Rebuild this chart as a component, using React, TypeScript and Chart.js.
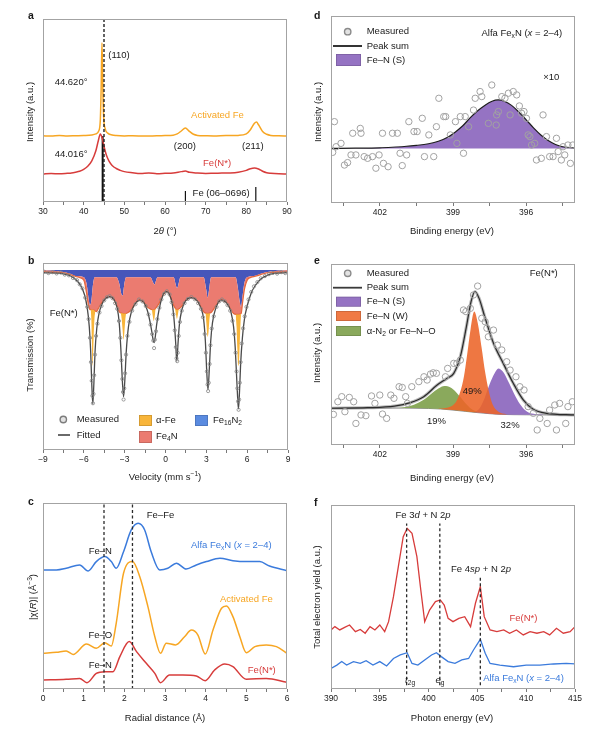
import { useEffect, useRef } from 'react';
import { Chart, registerables } from 'chart.js';

Chart.register(...registerables);
const FONT = "'Liberation Sans', Arial, Helvetica, sans-serif";
Chart.defaults.font.family = FONT;
Chart.defaults.color = '#222';

// ---------------- Panel a: XRD ----------------
const XRD_ACTIVATED_FE = [[30,36.2],[32,36.0],[34,36.3],[36,36.1],[38,36.2],[40,36.3],[42,36.6],[43,37.2],[43.7,38.8],[44.1,45],[44.3,62],[44.5,87],[44.7,64],[44.9,47],[45.3,40],[46,37.5],[47,36.6],[48,36.3],[50,36.1],[52,36.2],[55,36.0],[58,36.2],[60,36.3],[62,36.5],[63,37.2],[64,38.8],[65,40.4],[66,38.6],[67,37.0],[68,36.4],[70,36.2],[72,36.1],[75,36.3],[78,36.4],[80,37.2],[81,39.5],[82,43.0],[82.5,43.7],[83,42.2],[84,38.5],[85,37],[86,36.4],[88,36.2],[90,36.1]];
const XRD_FE_N = [[30,15.3],[32,15.6],[34,15.4],[36,15.7],[37,15.9],[38,16.3],[39,16.8],[40,17.8],[41,19.5],[42,22.5],[43,28],[43.6,33.5],[44.1,37.2],[44.6,34.5],[45.1,29.5],[45.6,25.5],[46.2,22.5],[47,20],[48,18.3],[49,17.3],[50,16.6],[52,16.0],[54,15.6],[56,15.8],[58,15.5],[60,15.7],[62,15.9],[64,16.6],[65,16.9],[66,16.2],[68,15.8],[70,15.6],[72,15.7],[74,15.8],[76,15.9],[78,16.3],[80,17.3],[81,18.2],[82,18.6],[83,18],[84,16.8],[85,16],[86,15.7],[88,15.4],[90,15.3]];
const XRD_DASH_X = 45.0;
const XRD_REF_POS = [44.67, 65.02, 82.33];
const XRD_REF_HEIGHT = [36, 6, 8.2];
const XRD_TICKS = [30,35,40,45,50,55,60,65,70,75,80,85,90];
const XRD_LABELS = [30,40,50,60,70,80,90];

// ---------------- Panel d: XPS Alfa FexN ----------------
const XPS_ALFA_MEASURED = [[403.86,43.5],[403.93,27.1],[403.79,30.1],[403.59,31.9],[403.45,20.3],[403.32,21.6],[403.11,37.3],[403.18,25.7],[402.98,25.7],[402.80,39.9],[402.77,37.3],[402.64,24.8],[402.50,23.9],[402.30,24.8],[402.16,18.6],[402.03,25.7],[401.89,37.3],[401.85,21.2],[401.66,19.4],[401.48,37.3],[401.28,37.3],[401.17,26.6],[401.08,20.0],[400.90,25.7],[400.81,43.5],[400.60,38.2],[400.47,38.2],[400.26,45.3],[400.17,24.8],[399.99,36.4],[399.79,24.8],[399.68,40.8],[399.58,56.0],[399.38,46.2],[399.30,46.2],[399.11,36.4],[398.90,43.5],[398.84,31.9],[398.70,46.2],[398.57,26.6],[398.50,46.2],[398.36,40.8],[398.16,49.7],[398.09,56.0],[397.89,59.6],[397.82,56.9],[397.55,42.6],[397.41,63.1],[397.23,41.7],[397.21,47.1],[397.14,48.9],[397.00,56.9],[396.87,56.0],[396.73,58.7],[396.66,47.1],[396.53,59.6],[396.39,57.8],[396.28,51.9],[396.19,48.0],[396.09,48.9],[395.99,45.3],[395.92,36.4],[395.85,35.5],[395.78,31.0],[395.65,31.9],[395.58,23.0],[395.38,23.9],[395.31,47.1],[395.17,35.5],[395.04,24.8],[394.90,24.8],[394.76,34.6],[394.69,27.5],[394.56,23.0],[394.49,30.1],[394.42,25.7],[394.29,31.0],[394.19,21.2],[394.09,31.0]];
const XPS_ALFA_FIT = [[404,29.2],[403,29.3],[402,29.5],[401.5,29.8],[401,30.2],[400.5,30.8],[400,31.7],[399.6,33.0],[399.2,35.3],[398.9,38.0],[398.6,41.3],[398.3,45.5],[398.0,49.2],[397.7,52.2],[397.4,54.4],[397.15,55.1],[396.9,54.4],[396.6,52.2],[396.3,48.6],[396.0,44.5],[395.7,40.2],[395.4,36.4],[395.1,33.4],[394.8,31.3],[394.5,30.1],[394.0,29.4]];
const XPS_ALFA_BASE = 29.2;
const XPS_TICKS = [394.5,396,397.5,399,400.5,402,403.5];
const XPS_LABELS = [396,399,402];

// ---------------- Panel b: Mossbauer ----------------
const MOSS_MEASURED = [[-8.9,95.3],[-8.6,94.6],[-8.3,95.1],[-8.0,94.4],[-7.7,94.9],[-7.4,93.8],[-7.1,93.4],[-6.8,92.0],[-6.5,90.8],[-6.3,88.6],[-6.1,86.4],[-5.9,81.5],[-5.75,76.5],[-5.65,70],[-5.55,60],[-5.48,47],[-5.42,37],[-5.37,29],[-5.33,25],[-5.29,30],[-5.24,40],[-5.18,51],[-5.1,61],[-5.0,67.5],[-4.85,73.5],[-4.7,77],[-4.5,80],[-4.3,81.7],[-4.1,82.3],[-3.9,81.2],[-3.7,78.5],[-3.55,75.5],[-3.42,69],[-3.32,60],[-3.24,48],[-3.17,38],[-3.12,31],[-3.08,27],[-3.03,33],[-2.97,41],[-2.9,51],[-2.8,61],[-2.65,68.5],[-2.45,74.5],[-2.2,78],[-1.95,80.5],[-1.7,79.5],[-1.45,77],[-1.25,72.5],[-1.1,67],[-0.98,62],[-0.9,58.5],[-0.84,54.5],[-0.78,59],[-0.7,63.5],[-0.6,70],[-0.45,76],[-0.3,80.5],[-0.1,83.5],[0.1,84.9],[0.3,83.2],[0.45,79],[0.58,72.5],[0.68,64],[0.76,55],[0.81,49],[0.86,47.5],[0.9,52],[0.97,61],[1.06,68.5],[1.2,74.5],[1.4,78.5],[1.65,80.8],[1.9,81.8],[2.15,80.6],[2.4,78.5],[2.6,75.5],[2.75,71],[2.88,62],[2.97,52],[3.04,42],[3.09,35],[3.13,31.5],[3.18,36],[3.24,46],[3.3,56],[3.4,65],[3.55,71.5],[3.75,76.5],[3.95,79.5],[4.15,80.5],[4.35,79.5],[4.55,77.5],[4.75,74.5],[4.92,69],[5.05,62],[5.15,52],[5.22,42],[5.28,33],[5.33,26],[5.37,21.5],[5.41,27],[5.46,36],[5.52,47],[5.6,57],[5.7,65],[5.82,71.5],[5.95,76.5],[6.1,80.5],[6.3,84.5],[6.5,87.5],[6.75,89.8],[7.0,91.8],[7.3,93],[7.6,94],[7.9,94.7],[8.2,94.3],[8.5,95.1],[8.8,94.6]];
const MOSS_FITTED = [[-9,94.8],[-8,94.6],[-7.5,94.2],[-7,93.2],[-6.5,90.5],[-6.2,87.5],[-5.95,83],[-5.75,76],[-5.6,66],[-5.5,53],[-5.42,36],[-5.34,24.6],[-5.26,36],[-5.18,52],[-5.05,65],[-4.9,72.5],[-4.7,77.5],[-4.4,81],[-4.1,82],[-3.8,80.5],[-3.55,76],[-3.4,68],[-3.28,54],[-3.17,37],[-3.08,28.5],[-2.99,37],[-2.88,53],[-2.72,66],[-2.5,74],[-2.2,78.5],[-1.9,80.2],[-1.6,79],[-1.35,75],[-1.15,69],[-1.0,63],[-0.9,58.5],[-0.84,57.5],[-0.76,60],[-0.65,67],[-0.45,76],[-0.2,82.5],[0.05,84.7],[0.3,83],[0.5,78],[0.65,68],[0.75,57],[0.83,47.4],[0.92,57],[1.02,67],[1.2,75],[1.5,80],[1.9,81.5],[2.3,80],[2.6,76],[2.8,70],[2.93,58],[3.03,42],[3.12,32.2],[3.21,42],[3.32,58],[3.45,68],[3.7,76],[4.1,80.2],[4.5,78.5],[4.8,74],[5.0,66],[5.12,55],[5.22,40],[5.3,28],[5.36,22],[5.43,30],[5.52,46],[5.65,60],[5.8,70],[6.0,77],[6.3,84],[6.6,88],[7.0,91.5],[7.5,93.5],[8,94.4],[9,94.8]];
const MOSS_TOP_LEVEL = 96.3;
const MOSS_FE16N2 = [[-9,96.2],[-7.5,95.2],[-7,94.2],[-6.6,93.0],[-6.0,92.4],[-5.8,89],[-5.65,81],[-5.55,77.5],[-5.45,79.5],[-5.35,87],[-5.2,92.4],[-3.6,92.4],[-3.4,89],[-3.25,83.5],[-3.15,82.5],[-3.05,87.5],[-2.9,92.4],[-1.1,92.4],[-0.9,89.5],[-0.8,88.5],[-0.7,90.5],[-0.6,92.4],[0.6,92.4],[0.75,88.5],[0.85,86.5],[0.95,88.5],[1.1,92.4],[2.8,92.4],[3.0,85.5],[3.1,81.5],[3.2,85.5],[3.35,92.4],[5.15,92.4],[5.3,87.5],[5.45,79.5],[5.55,76.5],[5.65,81.5],[5.8,89.5],[6.1,92.6],[6.6,93.2],[7,94.2],[7.5,95.2],[9,96.2]];
const MOSS_FE4N = [[-9,95.2],[-8,95.0],[-7.5,94.8],[-7,93.8],[-6.6,92.8],[-6.3,92.2],[-6.0,90.8],[-5.8,84],[-5.65,77],[-5.5,75],[-5.35,75],[-5.2,74.5],[-5.08,74],[-4.95,75.5],[-4.7,78.5],[-4.4,81],[-4.1,82],[-3.8,80.5],[-3.55,76.5],[-3.4,74],[-3.25,73.2],[-3.1,73],[-2.92,73],[-2.75,73.5],[-2.5,75],[-2.2,78.5],[-1.9,80.2],[-1.6,79],[-1.35,76.5],[-1.15,75.5],[-1.0,75],[-0.84,75],[-0.7,76],[-0.5,78],[-0.2,82.5],[0.05,84.7],[0.3,83],[0.5,79],[0.7,76],[0.85,75],[1.0,75.5],[1.2,77],[1.5,80],[1.9,81.5],[2.3,80],[2.6,76.5],[2.85,73.5],[3.1,73],[3.35,73.5],[3.6,76],[4.1,80.2],[4.5,78.5],[4.8,75],[5.0,73],[5.2,72.5],[5.4,72.5],[5.56,73],[5.65,78],[5.8,86],[6.0,90.8],[6.3,92.4],[6.6,92.9],[7,93.8],[7.5,94.8],[8,95.0],[9,95.2]];
const MOSS_ALPHA_FE_D1 = [[-5.5,75],[-5.45,70],[-5.41,58],[-5.37,45],[-5.33,48],[-5.28,60],[-5.22,70],[-5.15,74.3]];
const MOSS_ALPHA_FE_D2 = [[-3.28,73.3],[-3.22,70],[-3.15,64],[-3.08,59],[-3.02,63],[-2.96,69],[-2.9,73]];
const MOSS_ALPHA_FE_D3 = [[-1.0,75],[-0.92,71],[-0.86,69],[-0.8,71],[-0.72,75.8]];
const MOSS_ALPHA_FE_D4 = [[0.7,76],[0.78,72],[0.84,70],[0.9,72],[0.98,75.4]];
const MOSS_ALPHA_FE_D5 = [[2.93,73.3],[2.99,69],[3.05,63],[3.1,60.5],[3.16,63],[3.22,69],[3.28,73.3]];
const MOSS_ALPHA_FE_D6 = [[5.15,72.6],[5.22,66],[5.28,54],[5.34,45],[5.4,47],[5.46,58],[5.52,69],[5.56,73]];
const MOSS_TICKS = [-9,-7.5,-6,-4.5,-3,-1.5,0,1.5,3,4.5,6,7.5,9];
const MOSS_LABELS = [-9,-6,-3,0,3,6,9];

// ---------------- Panel e: XPS Fe(N*) ----------------
const XPS_FEN_MEASURED = [[403.90,16.9],[403.72,23.9],[403.56,26.7],[403.43,18.4],[403.25,26.3],[403.07,23.9],[402.98,11.9],[402.77,16.6],[402.57,16.2],[402.34,27.1],[402.20,23.0],[402.00,27.6],[401.89,17.1],[401.72,14.7],[401.55,27.6],[401.42,25.8],[401.21,32.2],[401.08,31.8],[400.94,26.7],[400.87,23.0],[400.69,32.2],[400.40,35.0],[400.19,37.7],[400.06,35.9],[399.92,39.2],[399.81,39.9],[399.68,39.6],[399.31,37.7],[399.22,42.3],[398.97,45.1],[398.84,45.1],[398.70,46.9],[398.57,74.6],[398.47,73.7],[398.29,75.5],[398.16,82.9],[397.99,87.8],[397.82,70.0],[397.68,68.1],[397.61,64.5],[397.55,59.8],[397.34,63.5],[397.18,55.2],[397.00,52.5],[396.80,46.0],[396.66,41.4],[396.42,37.7],[396.26,32.2],[396.09,30.4],[395.92,21.2],[395.71,17.5],[395.55,8.3],[395.44,14.7],[395.14,11.9],[395.04,19.3],[394.83,22.1],[394.76,8.3],[394.63,23.0],[394.38,11.9],[394.29,21.2],[394.11,23.9]];
const XPS_FEN_SUM = [[404,20.3],[402.5,20.6],[401.4,21.5],[400.75,23.4],[400.2,26.7],[399.65,33.1],[399.25,36.8],[398.97,39.6],[398.7,48.8],[398.45,65.4],[398.26,79.2],[398.1,84.8],[397.93,81.0],[397.7,70.9],[397.34,56.2],[396.94,45.1],[396.53,34.1],[396.12,24.9],[395.71,19.7],[395.17,17.5],[394,16.6]];
const XPS_FEN_BASE = [[404,20.3],[401,20.4],[400,20.2],[399.5,19.9],[399,19.3],[398.5,18.6],[398,17.9],[397.5,17.3],[397,16.9],[396,16.7],[394,16.5]];
const XPS_FEN_N2 = [[401.3,20.4],[401,20.9],[400.6,22.3],[400.2,25.0],[399.9,28.2],[399.6,31.2],[399.35,32.6],[399.1,31.8],[398.9,29.6],[398.7,26.5],[398.5,23.2],[398.3,20.5],[398.1,18.8],[397.9,17.8]];
const XPS_FEN_W = [[399.6,19.9],[399.3,20.4],[399.05,21.5],[398.85,24.5],[398.7,29.5],[398.55,38],[398.42,50],[398.28,64],[398.13,73.7],[397.98,67],[397.83,54],[397.68,40],[397.53,29.5],[397.38,22.5],[397.15,18.5],[396.8,17.0]];
const XPS_FEN_S = [[398.1,18.0],[397.9,20.5],[397.7,26],[397.5,33.5],[397.3,39.5],[397.14,42.3],[396.95,40.5],[396.75,35.5],[396.5,28.5],[396.25,22.5],[396,18.8],[395.7,17.2],[395.3,16.7]];
const XPS_FEN_SHARES = ['19%', '49%', '32%'];

// ---------------- Panel c: EXAFS ----------------
const EXAFS_ALFA = [[0,64.0],[0.33,64.0],[0.57,64.9],[0.9,66.7],[1.11,63.5],[1.31,68.5],[1.52,71.2],[1.68,68.5],[1.8,64.9],[1.98,73.8],[2.17,85.5],[2.34,89.1],[2.5,85.5],[2.66,73.8],[2.87,64.0],[3.07,64.9],[3.28,67.6],[3.52,64.5],[3.77,66.7],[4.02,68.5],[4.35,70.3],[4.67,69.0],[5.0,68.5],[5.33,68.5],[5.57,66.1],[6.0,63.6]];
const EXAFS_ACTIVATED = [[0,19.2],[0.33,19.7],[0.57,20.4],[0.74,18.6],[1.07,24.2],[1.31,21.9],[1.52,24.9],[1.68,23.1],[1.8,35.3],[1.98,62.2],[2.2,68.5],[2.38,60.4],[2.58,44.3],[2.75,28.1],[2.89,19.2],[3.03,24.6],[3.26,23.7],[3.48,28.1],[3.65,31.7],[3.81,29.0],[3.99,18.8],[4.18,31.7],[4.39,43.4],[4.51,44.6],[4.67,38.9],[4.84,28.1],[5.0,19.5],[5.21,22.8],[5.49,23.7],[5.74,22.8],[6.0,19.2]];
const EXAFS_FEN = [[0,4.8],[0.57,5.2],[0.9,5.7],[1.08,3.4],[1.31,8.4],[1.52,9.3],[1.72,9.3],[1.89,17.4],[2.12,25.5],[2.3,20.1],[2.54,13.8],[2.75,8.4],[2.89,3.4],[3.11,7.5],[3.44,7.5],[3.77,7.0],[3.99,4.5],[4.22,10.2],[4.47,13.4],[4.67,12.0],[5.0,5.2],[5.49,5.7],[6.0,3.6]];
const EXAFS_DASH_X = [1.5, 2.2];
const EXAFS_TICKS = [0,0.5,1,1.5,2,2.5,3,3.5,4,4.5,5,5.5,6];
const EXAFS_LABELS = [0,1,2,3,4,5,6];

// ---------------- Panel f: NEXAFS ----------------
const NEXAFS_FEN = [[390.0,32.1],[390.4,33.9],[390.9,32.1],[391.4,33.5],[391.9,34.8],[392.5,31.2],[393.0,32.4],[393.5,30.3],[394.0,33.9],[394.5,32.1],[395.0,34.8],[395.5,31.2],[395.9,36.6],[396.4,50.2],[396.9,66.5],[397.4,82.8],[397.8,87.3],[398.3,84.6],[398.8,71.9],[399.2,53.8],[399.6,36.6],[400.1,42.9],[400.7,47.5],[401.2,48.4],[401.6,45.6],[402.0,38.4],[402.5,36.6],[403.1,38.4],[403.7,39.3],[404.3,33.9],[404.8,46.6],[405.3,55.6],[405.7,39.3],[406.3,32.1],[407.0,31.2],[407.7,32.1],[408.3,30.3],[409.0,32.1],[409.7,29.4],[410.4,31.2],[411.1,30.3],[411.8,31.2],[412.4,29.4],[413.1,33.0],[413.8,30.3],[414.5,31.2],[415.0,33.9]];
const NEXAFS_ALFA = [[390.0,11.2],[390.6,13.0],[391.1,14.9],[391.6,13.0],[392.3,14.9],[393.0,13.9],[393.6,15.4],[394.3,13.0],[395.0,14.9],[395.7,12.5],[396.4,16.6],[397.1,18.5],[397.8,19.7],[398.3,13.9],[398.9,13.0],[399.6,15.8],[400.3,18.5],[400.8,19.7],[401.3,17.6],[402.0,14.9],[402.7,13.9],[403.4,15.8],[404.1,16.6],[404.6,21.2],[405.3,27.0],[405.8,19.4],[406.3,13.9],[407.3,13.0],[408.7,12.1],[410.0,13.0],[411.4,13.0],[412.8,13.6],[414.1,13.9],[415.0,13.6]];
const NEXAFS_DASH_X = [397.75, 401.15, 405.3];
const NEXAFS_DASH_TOP = [90, 90, 60.7];
const NEXAFS_TICKS = [390,392.5,395,397.5,400,402.5,405,407.5,410,412.5,415];
const NEXAFS_LABELS = [390,395,400,405,410,415];

// ---------------- colours ----------------
const C_ORANGE = '#F7A623';
const C_RED = '#D73C3B';
const C_BLUE = '#3B7BDC';
const C_PURPLE = '#9573C3';
const C_WORANGE = 'rgba(236,100,40,0.88)';
const C_GREEN = '#8AA95C';
const C_MOSS_BLUE = '#4656BA';
const C_MOSS_RED = '#EB7B70';
const C_MOSS_YEL = '#F8B53A';
const TXT = 9.5;

// ---------------- helpers ----------------
const xy = (a: number[][]) => a.map(([x, y]) => ({ x, y }));
const line = (data: number[][], color: string, width: number, extra: any = {}) => ({
  data: xy(data), borderColor: color, borderWidth: width, pointRadius: 0, fill: false,
  cubicInterpolationMode: 'monotone', ...extra,
});
const vline = (x: number, y0: number, y1: number, color: string, width: number, dash: number[] = []) =>
  ({ data: [{ x, y: y0 }, { x, y: y1 }], borderColor: color, borderWidth: width, borderDash: dash, pointRadius: 0, fill: false });
const scatter = (data: number[][], color: string, r: number, bw: number) => ({
  data: xy(data), showLine: false, pointRadius: r, pointBorderColor: color,
  pointBackgroundColor: 'rgba(255,255,255,0)', pointBorderWidth: bw, borderColor: color, backgroundColor: 'rgba(0,0,0,0)', fill: false,
});

function parseRich(s: string) {
  const segs: any[] = [];
  let buf = ''; let it = false; let i = 0;
  const flush = () => { if (buf) { segs.push({ t: buf, it }); buf = ''; } };
  while (i < s.length) {
    const c = s[i];
    if ((c === '_' || c === '^') && s[i + 1] === '{') {
      flush();
      const end = s.indexOf('}', i);
      segs.push({ t: s.slice(i + 2, end), sub: c === '_', sup: c === '^', it });
      i = end + 1; continue;
    }
    if (c === '~') { flush(); it = !it; i++; continue; }
    buf += c; i++;
  }
  flush();
  return segs;
}

function drawRich(ctx: CanvasRenderingContext2D, s: string, x: number, y: number, size: number, color: string, align: string, bold: boolean, rot: boolean) {
  const segs = parseRich(s);
  const fontFor = (sg: any) => `${sg.it ? 'italic ' : ''}${bold ? 'bold ' : ''}${sg.sub || sg.sup ? size * 0.7 : size}px ${FONT}`;
  let w = 0;
  for (const sg of segs) { ctx.font = fontFor(sg); w += ctx.measureText(sg.t).width; }
  ctx.save();
  ctx.translate(x, y);
  if (rot) ctx.rotate(-Math.PI / 2);
  let cx = align === 'center' ? -w / 2 : align === 'right' ? -w : 0;
  ctx.fillStyle = color; ctx.textBaseline = 'middle'; ctx.textAlign = 'left';
  for (const sg of segs) {
    ctx.font = fontFor(sg);
    const dy = sg.sub ? size * 0.3 : sg.sup ? -size * 0.35 : 0;
    ctx.fillText(sg.t, cx, dy);
    cx += ctx.measureText(sg.t).width;
  }
  ctx.restore();
}

type Txt = { s: string; x: number; y: number; data?: boolean; color?: string; size?: number; align?: string; rot?: boolean; bold?: boolean };
type Leg = { kind: 'circle' | 'line' | 'box'; x: number; y: number; w?: number; h?: number; color: string };

const decor = (texts: Txt[], legend: Leg[]) => ({
  id: 'decor',
  afterDatasetsDraw(chart: any) {
    const { ctx, chartArea: a, scales } = chart;
    ctx.save();
    ctx.strokeStyle = '#a3a3a3'; ctx.lineWidth = 1;
    ctx.strokeRect(Math.round(a.left) + 0.5, Math.round(a.top) + 0.5, Math.round(a.right - a.left) - 1, Math.round(a.bottom - a.top) - 1);
    for (const l of legend) {
      if (l.kind === 'circle') {
        ctx.beginPath(); ctx.arc(l.x, l.y, 3.2, 0, Math.PI * 2);
        ctx.fillStyle = '#e2e2e2'; ctx.fill();
        ctx.strokeStyle = l.color; ctx.lineWidth = 1.4; ctx.stroke();
      } else if (l.kind === 'line') {
        ctx.beginPath(); ctx.moveTo(l.x, l.y); ctx.lineTo(l.x + (l.w || 20), l.y);
        ctx.strokeStyle = l.color; ctx.lineWidth = 1.8; ctx.stroke();
      } else {
        ctx.fillStyle = l.color; ctx.fillRect(l.x, l.y, l.w || 10, l.h || 10);
        ctx.strokeStyle = 'rgba(0,0,0,0.18)'; ctx.lineWidth = 0.8; ctx.strokeRect(l.x + 0.4, l.y + 0.4, (l.w || 10) - 0.8, (l.h || 10) - 0.8);
      }
    }
    for (const t of texts) {
      const px = t.data ? scales.x.getPixelForValue(t.x) : t.x;
      const py = t.data ? scales.y.getPixelForValue(t.y) : t.y;
      drawRich(ctx, t.s, px, py, t.size || TXT, t.color || '#1a1a1a', t.align || 'center', !!t.bold, !!t.rot);
    }
    ctx.restore();
  },
});

function xAxis(min: number, max: number, ticks: number[], labels: number[], height: number, reverse = false, fmt = (v: number) => String(v)) {
  return {
    type: 'linear', min, max, reverse,
    afterBuildTicks: (s: any) => { s.ticks = ticks.map((v) => ({ value: v })); },
    afterFit: (s: any) => { s.height = height; },
    ticks: { autoSkip: false, maxRotation: 0, minRotation: 0, padding: 2, color: '#222', font: { size: 8.5 },
      callback: (v: number) => (labels.includes(v) ? fmt(v) : '') },
    grid: { drawOnChartArea: false, drawTicks: true, tickLength: 3, color: '#555', lineWidth: 0.8 },
    border: { display: false },
  };
}

function makeConfig(datasets: any[], pad: any, x: any, texts: Txt[], legend: Leg[] = []) {
  return {
    type: 'line',
    data: { datasets },
    options: {
      responsive: false, animation: false, events: [],
      layout: { padding: { ...pad, bottom: 0 } },
      plugins: { legend: { display: false }, tooltip: { enabled: false }, title: { display: false } },
      scales: { x, y: { type: 'linear', display: false, min: 0, max: 100 } },
    },
    plugins: [decor(texts, legend)],
  };
}

const minus = (v: number) => (v < 0 ? '\u2212' + Math.abs(v) : String(v));

// ---------------- panel configs ----------------
function configA() {
  const ds = [
    vline(XRD_DASH_X, 0, 100, '#222', 1.4, [3, 2]),
    line(XRD_ACTIVATED_FE, C_ORANGE, 1.5),
    line(XRD_FE_N, C_RED, 1.5),
    ...XRD_REF_POS.map((p, i) => vline(p, 0, XRD_REF_HEIGHT[i], '#111', i === 0 ? 2 : 1.2)),
  ];
  const texts: Txt[] = [
    { s: 'a', x: 28, y: 16, bold: true, size: 10.5, align: 'left' },
    { s: 'Intensity (a.u.)', x: 30, y: 112, rot: true },
    { s: '2~θ~ (°)', x: 165, y: 231 },
    { s: '(110)', x: 48.7, y: 80.3, data: true },
    { s: '44.620°', x: 36.9, y: 65.6, data: true },
    { s: 'Activated Fe', x: 72.9, y: 47.5, data: true, color: C_ORANGE },
    { s: '(200)', x: 64.9, y: 30.6, data: true },
    { s: '(211)', x: 81.6, y: 30.6, data: true },
    { s: '44.016°', x: 36.9, y: 26.2, data: true },
    { s: 'Fe(N*)', x: 72.8, y: 21.3, data: true, color: C_RED },
    { s: 'Fe (06–0696)', x: 73.8, y: 4.9, data: true },
  ];
  return makeConfig(ds, { left: 43, right: 13, top: 19 }, xAxis(30, 90, XRD_TICKS, XRD_LABELS, 43), texts);
}

function configD() {
  const ds = [
    scatter(XPS_ALFA_MEASURED, '#a2a2a2', 3.2, 1),
    line(XPS_ALFA_FIT, '#1e1e1e', 1.2),
    line(XPS_ALFA_FIT, 'rgba(0,0,0,0)', 0, { fill: { value: XPS_ALFA_BASE }, backgroundColor: C_PURPLE }),
  ];
  const texts: Txt[] = [
    { s: 'd', x: 14, y: 16, bold: true, size: 10.5, align: 'left' },
    { s: 'Intensity (a.u.)', x: 18, y: 112, rot: true },
    { s: 'Binding energy (eV)', x: 152, y: 231 },
    { s: 'Measured', x: 66.7, y: 31.7, align: 'left' },
    { s: 'Peak sum', x: 66.7, y: 46, align: 'left' },
    { s: 'Fe–N (S)', x: 66.7, y: 60, align: 'left' },
    { s: 'Alfa Fe_{x}N (~x~ = 2–4)', x: 396.18, y: 90.9, data: true },
    { s: '×10', x: 394.97, y: 67.4, data: true },
  ];
  const legend: Leg[] = [
    { kind: 'circle', x: 47.7, y: 31.7, color: '#8a8a8a' },
    { kind: 'line', x: 33, y: 46, w: 29, color: '#1e1e1e' },
    { kind: 'box', x: 36, y: 54, w: 25, h: 12, color: C_PURPLE },
  ];
  return makeConfig(ds, { left: 31, right: 32, top: 16 }, xAxis(394, 404, XPS_TICKS, XPS_LABELS, 42, true), texts, legend);
}

function configB() {
  const dips = [MOSS_ALPHA_FE_D1, MOSS_ALPHA_FE_D2, MOSS_ALPHA_FE_D3, MOSS_ALPHA_FE_D4, MOSS_ALPHA_FE_D5, MOSS_ALPHA_FE_D6];
  const rIdx = 2 + dips.length;
  const ds = [
    scatter(MOSS_MEASURED, '#858585', 1.6, 0.8),
    line(MOSS_FITTED, '#4a4a4a', 1.3),
    ...dips.map((d) => line(d, 'rgba(0,0,0,0)', 0, { fill: rIdx, backgroundColor: C_MOSS_YEL })),
    line(MOSS_FE4N, '#E4663C', 1.2, { fill: rIdx + 1, backgroundColor: C_MOSS_RED }),
    line(MOSS_FE16N2, 'rgba(0,0,0,0)', 0, { fill: rIdx + 2, backgroundColor: C_MOSS_BLUE }),
    line([[-9, MOSS_TOP_LEVEL], [9, MOSS_TOP_LEVEL]], 'rgba(0,0,0,0)', 0),
  ];
  const texts: Txt[] = [
    { s: 'b', x: 28, y: 16, bold: true, size: 10.5, align: 'left' },
    { s: 'Transmission (%)', x: 30, y: 110, rot: true },
    { s: 'Velocity (mm s^{−1})', x: 165, y: 232 },
    { s: 'Fe(N*)', x: -7.48, y: 73.3, data: true },
    { s: 'Measured', x: 76.7, y: 174.5, align: 'left' },
    { s: 'Fitted', x: 76.7, y: 190, align: 'left' },
    { s: 'α-Fe', x: 156, y: 175, align: 'left' },
    { s: 'Fe_{4}N', x: 156, y: 191, align: 'left' },
    { s: 'Fe_{16}N_{2}', x: 213, y: 175, align: 'left' },
  ];
  const legend: Leg[] = [
    { kind: 'circle', x: 63.3, y: 174.5, color: '#7d7d7d' },
    { kind: 'line', x: 58, y: 190, w: 12, color: '#5a5a5a' },
    { kind: 'box', x: 139, y: 170, w: 13, h: 11, color: C_MOSS_YEL },
    { kind: 'box', x: 139, y: 186, w: 13, h: 12, color: C_MOSS_RED },
    { kind: 'box', x: 195, y: 170, w: 13, h: 11, color: '#5A8BE0' },
  ];
  return makeConfig(ds, { left: 43, right: 12, top: 18 }, xAxis(-9, 9, MOSS_TICKS, MOSS_LABELS, 40, false, minus), texts, legend);
}

function configE() {
  const ds = [
    scatter(XPS_FEN_MEASURED, '#a2a2a2', 3.2, 1),
    line(XPS_FEN_SUM, '#2a2a2a', 1.2),
    line(XPS_FEN_SUM, 'rgba(130,130,130,0.55)', 3.2),
    line(XPS_FEN_W, 'rgba(0,0,0,0)', 0, { fill: 6, backgroundColor: C_WORANGE }),
    line(XPS_FEN_S, 'rgba(0,0,0,0)', 0, { fill: 6, backgroundColor: C_PURPLE }),
    line(XPS_FEN_N2, 'rgba(0,0,0,0)', 0, { fill: 6, backgroundColor: C_GREEN }),
    line(XPS_FEN_BASE, '#6a6a6a', 0.8),
  ];
  const texts: Txt[] = [
    { s: 'e', x: 14, y: 16, bold: true, size: 10.5, align: 'left' },
    { s: 'Intensity (a.u.)', x: 17, y: 108, rot: true },
    { s: 'Binding energy (eV)', x: 152, y: 233 },
    { s: 'Measured', x: 66.7, y: 28.3, align: 'left' },
    { s: 'Peak sum', x: 66.7, y: 42.7, align: 'left' },
    { s: 'Fe–N (S)', x: 66.7, y: 56.7, align: 'left' },
    { s: 'Fe–N (W)', x: 66.7, y: 71, align: 'left' },
    { s: 'α-N_{2} or Fe–N–O', x: 66.7, y: 86, align: 'left' },
    { s: 'Fe(N*)', x: 395.28, y: 95.0, data: true },
    { s: XPS_FEN_SHARES[1], x: 398.21, y: 29.4, data: true },
    { s: XPS_FEN_SHARES[0], x: 399.68, y: 12.9, data: true },
    { s: XPS_FEN_SHARES[2], x: 396.66, y: 10.7, data: true },
  ];
  const legend: Leg[] = [
    { kind: 'circle', x: 47.7, y: 28.3, color: '#8a8a8a' },
    { kind: 'line', x: 33, y: 42.7, w: 29, color: '#3a3a3a' },
    { kind: 'box', x: 36, y: 51.7, w: 25, h: 10, color: C_PURPLE },
    { kind: 'box', x: 36, y: 66, w: 25, h: 10, color: '#F07A45' },
    { kind: 'box', x: 36, y: 81, w: 25, h: 10, color: C_GREEN },
  ];
  return makeConfig(ds, { left: 31, right: 32, top: 19 }, xAxis(394, 404, XPS_TICKS, XPS_LABELS, 45, true), texts, legend);
}

function configC() {
  const ds = [
    ...EXAFS_DASH_X.map((x) => vline(x, 0, 100, '#2a2a2a', 1.3, [3, 2.5])),
    line(EXAFS_ALFA, C_BLUE, 1.5),
    line(EXAFS_ACTIVATED, C_ORANGE, 1.5),
    line(EXAFS_FEN, C_RED, 1.5),
  ];
  const texts: Txt[] = [
    { s: 'c', x: 28, y: 12, bold: true, size: 10.5, align: 'left' },
    { s: '|χ(~R~)| (Å^{−3})', x: 33, y: 107, rot: true },
    { s: 'Radial distance (Å)', x: 165, y: 228 },
    { s: 'Fe–Fe', x: 2.89, y: 93.5, data: true },
    { s: 'Alfa Fe_{x}N (~x~ = 2–4)', x: 4.63, y: 77.4, data: true, color: C_BLUE },
    { s: 'Fe–N', x: 1.41, y: 73.8, data: true },
    { s: 'Activated Fe', x: 5.0, y: 48.4, data: true, color: C_ORANGE },
    { s: 'Fe–O', x: 1.41, y: 28.7, data: true },
    { s: 'Fe–N', x: 1.41, y: 12.9, data: true },
    { s: 'Fe(N*)', x: 5.38, y: 10.2, data: true, color: C_RED },
  ];
  return makeConfig(ds, { left: 43, right: 13, top: 13 }, xAxis(0, 6, EXAFS_TICKS, EXAFS_LABELS, 46), texts);
}

function configF() {
  const ds = [
    ...NEXAFS_DASH_X.map((x, i) => vline(x, 2, NEXAFS_DASH_TOP[i], '#2a2a2a', 1.3, [3, 2.5])),
    line(NEXAFS_FEN, C_RED, 1.3, { cubicInterpolationMode: 'default', tension: 0 }),
    line(NEXAFS_ALFA, C_BLUE, 1.3, { cubicInterpolationMode: 'default', tension: 0 }),
  ];
  const texts: Txt[] = [
    { s: 'f', x: 14, y: 13, bold: true, size: 10.5, align: 'left' },
    { s: 'Total electron yield (a.u.)', x: 17, y: 107, rot: true },
    { s: 'Photon energy (eV)', x: 152, y: 228 },
    { s: 'Fe 3~d~ + N 2~p~', x: 399.43, y: 94.6, data: true },
    { s: 'Fe 4~sp~ + N 2~p~', x: 405.37, y: 65.2, data: true },
    { s: 'Fe(N*)', x: 409.72, y: 38.6, data: true, color: C_RED },
    { s: 'Alfa Fe_{x}N (~x~ = 2–4)', x: 409.72, y: 6.0, data: true, color: C_BLUE },
    { s: '~t~_{2g}', x: 398.1, y: 4.5, data: true },
    { s: '~e~_{g}', x: 401.17, y: 4.9, data: true },
  ];
  return makeConfig(ds, { left: 31, right: 32, top: 15 }, xAxis(390, 415, NEXAFS_TICKS, NEXAFS_LABELS, 46), texts);
}

function ChartBox({ left, top, width, height, build }: { left: number; top: number; width: number; height: number; build: () => any }) {
  const ref = useRef<HTMLCanvasElement>(null);
  useEffect(() => {
    const chart = new Chart(ref.current as HTMLCanvasElement, build());
    return () => chart.destroy();
  }, []);
  return (
    <div style={{ position: 'absolute', left, top, width, height }}>
      <canvas ref={ref} width={width} height={height} style={{ display: 'block', width, height }} />
    </div>
  );
}

export default function App() {
  return (
    <div style={{ position: 'absolute', left: 0, top: 0, width: 607, height: 735, background: '#fff', overflow: 'hidden' }}>
      <ChartBox left={0} top={0} width={300} height={245} build={configA} />
      <ChartBox left={300} top={0} width={307} height={245} build={configD} />
      <ChartBox left={0} top={245} width={300} height={245} build={configB} />
      <ChartBox left={300} top={245} width={307} height={245} build={configE} />
      <ChartBox left={0} top={490} width={300} height={245} build={configC} />
      <ChartBox left={300} top={490} width={307} height={245} build={configF} />
    </div>
  );
}
